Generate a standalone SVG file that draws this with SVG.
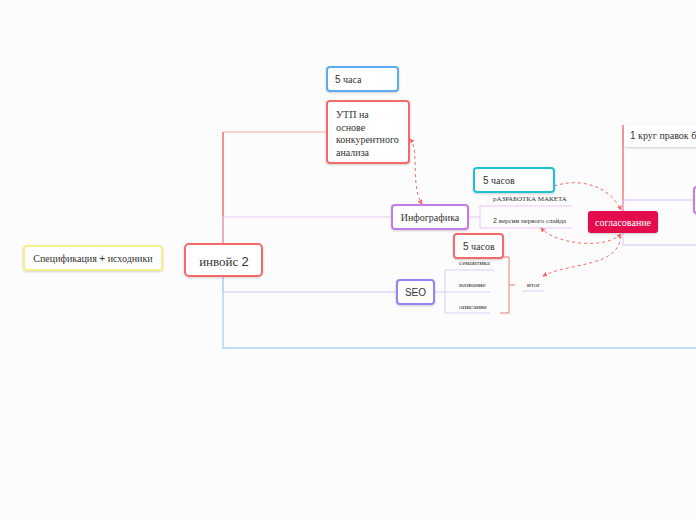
<svg xmlns="http://www.w3.org/2000/svg" width="696" height="520" viewBox="0 0 696 520">
<defs>
<filter id="sh" x="-20%" y="-30%" width="140%" height="160%"><feDropShadow dx="0" dy="1" stdDeviation="1.2" flood-color="#000" flood-opacity="0.18"/></filter>
<marker id="ar" viewBox="0 0 6 6" refX="5" refY="3" markerWidth="5" markerHeight="5" orient="auto-start-reverse"><path d="M0,0 L6,3 L0,6 z" fill="#f46b6b"/></marker>
<style>
.box{fill:#fff;stroke-width:2;filter:url(#sh)}
text{font-family:'Liberation Serif','DejaVu Serif',serif;fill:#333}
tspan.s,text.s{font-family:'Liberation Sans','DejaVu Sans',sans-serif}
.sm{font-size:7px}
.rel{fill:none;stroke:#f46b6b;stroke-width:1;stroke-dasharray:3,3}
</style>
</defs>
<rect width="696" height="520" fill="#fcfcfc"/>
<g id="connectors" fill="none" stroke-width="1">
<path d="M223,244 V132 H327" stroke="#f8a8a8"/>
<path d="M223,244 V132" stroke="#f47b7b" stroke-width="1.5"/>
<path d="M223,244 V217 H392" stroke="#e8c8f0"/>
<path d="M223,276 V292 H397" stroke="#c8c8f8"/>
<path d="M223,276 V348 H696" stroke="#a8d4f8" stroke-width="1.3"/>
<path d="M468,217 H480 M480,206 V228 M480,206 H572 M480,228 H572" stroke="#e6c8f0"/>
<path d="M434,292 H445 M445,270 V313 M445,270 H494 M445,292 H490 M445,313 H490" stroke="#d4d0f8"/>
<path d="M503,257 H509 V313 H500 M509,285 H515" stroke="#f47b7b"/>
<path d="M522,291 H544" stroke="#d4d0f8"/>
<path d="M623,212 V125" stroke="#f47b7b" stroke-width="1.5"/>
<path d="M623,200 H694 M623,200 V245 H696" stroke="#d8c4f8"/>
<path class="rel" d="M410,139 C420,150 410,185 422,204" marker-start="url(#ar)" marker-end="url(#ar)"/>
<path class="rel" d="M554,186 C585,176 612,190 621,210" marker-end="url(#ar)"/>
<path class="rel" d="M621,234 C605,250 555,244 541,228" marker-start="url(#ar)" marker-end="url(#ar)"/>
<path class="rel" d="M621,236 C618,268 570,262 543,276" marker-end="url(#ar)"/>
</g>
<g id="spec"><rect class="box" x="24" y="246" width="138" height="24" rx="3" stroke="#f7f08a"/><text font-family="Liberation Serif, serif" x="93" y="261.5" font-size="10" text-anchor="middle">Спецификация <tspan class="s">+</tspan> исходники</text></g>
<g id="invoice"><rect class="box" x="185" y="244" width="77" height="32" rx="4" stroke="#f46b6b"/><text x="224" y="265.5" font-size="13" text-anchor="middle">инвойс <tspan class="s">2</tspan></text></g>
<g id="hours5a"><rect class="box" x="327" y="67" width="71" height="24" rx="3" stroke="#5aabf0"/><text x="335" y="83" font-size="10"><tspan class="s">5</tspan> часа</text></g>
<g id="utp"><rect class="box" x="327" y="101" width="82" height="62" rx="3" stroke="#f46b6b"/><text font-size="10"><tspan x="336" y="118"> УТП на</tspan><tspan x="336" y="130.5">основе</tspan><tspan x="336" y="143">конкурентного</tspan><tspan x="336" y="155.5">анализа</tspan></text></g>
<g id="infographic"><rect class="box" x="392" y="205" width="76" height="24" rx="3" stroke="#c27de6"/><text x="430" y="220.5" font-size="10" text-anchor="middle">Инфографика</text></g>
<g id="hours5b"><rect class="box" x="474" y="168" width="80" height="24" rx="3" stroke="#1cc3cc"/><text x="483" y="184" font-size="10"><tspan class="s">5</tspan> часов</text></g>
<g id="maket"><text class="sm" x="493" y="201">рАЗРАБОТКА МАКЕТА</text></g>
<g id="slide"><text class="sm" x="493" y="223"><tspan class="s">2</tspan> версии первого слайда</text></g>
<g id="approval"><rect x="588" y="211" width="70" height="22" rx="3" fill="#e3074e" filter="url(#sh)"/><text x="623" y="225.5" font-size="10" text-anchor="middle" style="fill:#fff">согласование</text></g>
<g id="round1"><rect x="624" y="125" width="90" height="22" rx="3" fill="#fff" filter="url(#sh)"/><text x="630" y="139" font-size="10"><tspan class="s">1</tspan> круг правок б</text></g>
<g id="right"><rect class="box" x="694" y="187" width="20" height="26" rx="3" stroke="#c27de6"/></g>
<g id="hours5c"><rect class="box" x="454" y="234" width="49" height="24" rx="3" stroke="#f46b6b"/><text x="463" y="250" font-size="10"><tspan class="s">5</tspan> часов</text></g>
<g id="seo"><rect class="box" x="397" y="280" width="37" height="24" rx="3" stroke="#8f86f5"/><text class="s" x="415.5" y="295.5" font-size="10" text-anchor="middle">SEO</text></g>
<g id="semantics"><text class="sm" x="459" y="265">семантика</text></g>
<g id="name"><text class="sm" x="459" y="287">название</text></g>
<g id="desc"><text class="sm" x="459" y="309">описание</text></g>
<g id="total"><text class="sm" x="527" y="287">итог</text></g>
</svg>
